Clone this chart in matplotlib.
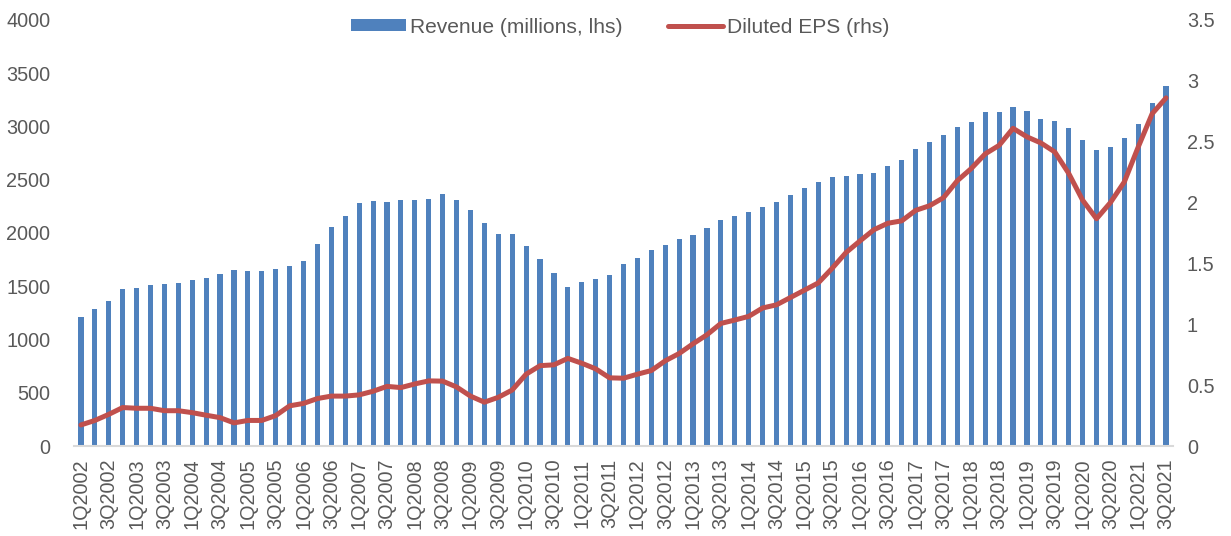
import matplotlib
matplotlib.use("Agg")
import matplotlib.pyplot as plt
from matplotlib.patches import Patch
from matplotlib.lines import Line2D
from matplotlib.ticker import FuncFormatter

plt.rcParams['font.family'] = ['Liberation Sans', 'DejaVu Sans']

years = list(range(2002, 2022))
quarters = [f"{q}Q{y}" for y in years for q in (1, 2, 3, 4)][:79]

revenue = [1207, 1286, 1365, 1471, 1487, 1515, 1522, 1534, 1562, 1581,
           1616, 1656, 1647, 1647, 1666, 1691, 1741, 1898, 2052, 2162,
           2284, 2296, 2287, 2312, 2306, 2318, 2369, 2306, 2218, 2092,
           1992, 1992, 1876, 1754, 1628, 1490, 1541, 1572, 1606, 1710,
           1763, 1842, 1892, 1939, 1979, 2045, 2118, 2155, 2199, 2240,
           2287, 2356, 2422, 2478, 2522, 2538, 2553, 2566, 2626, 2682,
           2789, 2858, 2924, 2993, 3040, 3137, 3140, 3184, 3144, 3075,
           3052, 2990, 2877, 2776, 2808, 2896, 3024, 3219, 3376]

eps = [0.173, 0.21, 0.26, 0.316, 0.31, 0.31, 0.29, 0.29, 0.274, 0.253,
       0.233, 0.19, 0.21, 0.21, 0.25, 0.33, 0.35, 0.39, 0.41, 0.41,
       0.42, 0.45, 0.49, 0.48, 0.51, 0.535, 0.533, 0.485, 0.41, 0.36,
       0.40, 0.46, 0.59, 0.66, 0.667, 0.72, 0.68, 0.634, 0.56, 0.557,
       0.59, 0.62, 0.70, 0.76, 0.84, 0.914, 1.007, 1.035, 1.065, 1.134,
       1.16, 1.22, 1.28, 1.34, 1.46, 1.59, 1.685, 1.777, 1.83, 1.85,
       1.936, 1.974, 2.04, 2.18, 2.28, 2.40, 2.47, 2.61, 2.54, 2.49,
       2.416, 2.24, 2.02, 1.867, 2.0, 2.17, 2.457, 2.73, 2.86]

BLUE = "#4F81BD"
RED = "#C0504D"
GRAY = "#595959"

fig = plt.figure(figsize=(12.31, 5.36), dpi=100)
ax = fig.add_axes([0.0601, 0.1679, 0.8928, 0.7948])
ax2 = ax.twinx()

x = list(range(len(quarters)))
ax.bar(x, revenue, width=0.37, color=BLUE, zorder=2)
ax2.plot(x, eps, color=RED, lw=3.6, solid_joinstyle='round', solid_capstyle='round', zorder=3)

ax.set_xlim(-0.5, len(quarters) - 0.5)
ax.set_ylim(0, 4000)
ax2.set_ylim(0, 3.5)
ax.set_yticks(range(0, 4001, 500))
ax2.set_yticks([i * 0.5 for i in range(8)])
ax2.yaxis.set_major_formatter(FuncFormatter(lambda v, p: f"{v:g}"))

ax.set_xticks(x[::2])
ax.set_xticklabels(quarters[::2], rotation=90)

for a in (ax, ax2):
    for s in a.spines.values():
        s.set_visible(False)
    a.tick_params(length=0, labelsize=14.3, colors=GRAY)
ax.spines['bottom'].set_visible(True)
ax.spines['bottom'].set_color('#D9D9D9')
ax.spines['bottom'].set_linewidth(1.5)
ax.tick_params(axis='x', pad=9)
ax.tick_params(axis='y', pad=17)
ax2.tick_params(axis='y', pad=10)

handles = [Patch(facecolor=BLUE, edgecolor='none'),
           Line2D([0], [0], color=RED, lw=3.6, solid_capstyle='round')]
leg = ax.legend(handles, ["Revenue (millions, lhs)", "Diluted EPS (rhs)"],
                loc='upper center', bbox_to_anchor=(0.497, 1.05), ncol=2,
                frameon=False, fontsize=15.1, handlelength=2.6, handleheight=0.5,
                handletextpad=0.2, columnspacing=2.2, labelcolor=GRAY)

fig.savefig("out.png", dpi=100)
